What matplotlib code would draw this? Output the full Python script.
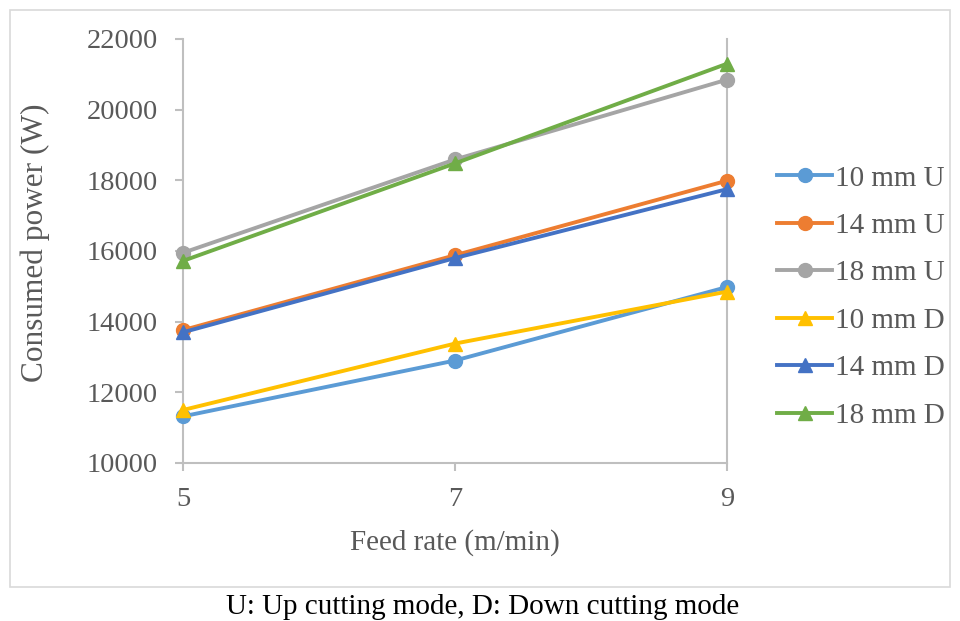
import matplotlib.pyplot as plt
from matplotlib.patches import Rectangle

plt.rcParams['font.family'] = ['Liberation Serif', 'DejaVu Serif']

feed_rates = ['5', '7', '9']
u10 = [11320, 12900, 14980]
u14 = [13760, 15880, 17990]
u18 = [15950, 18590, 20850]
d10 = [11500, 13380, 14850]
d14 = [13700, 15800, 17750]
d18 = [15720, 18480, 21300]

series = [
    ('10 mm U', u10, '#5B9BD5', 'o'),
    ('14 mm U', u14, '#ED7D31', 'o'),
    ('18 mm U', u18, '#A5A5A5', 'o'),
    ('10 mm D', d10, '#FFC000', '^'),
    ('14 mm D', d14, '#4472C4', '^'),
    ('18 mm D', d18, '#70AD47', '^'),
]

text_col = '#595959'
axis_col = '#BFBFBF'


def main():
    fig = plt.figure(figsize=(9.6, 6.21), dpi=100)
    # chart frame
    fig.patches.append(Rectangle((10 / 960, 1 - 587 / 621), 940 / 960, 577 / 621,
                                 transform=fig.transFigure, fill=False,
                                 edgecolor='#D9D9D9', linewidth=1.2))

    ax = fig.add_axes([183 / 960, 1 - 463 / 621, 544 / 960, 424 / 621])
    x = range(len(feed_rates))
    for name, vals, col, mk in series:
        ax.plot(x, vals, color=col, marker=mk, markersize=10, linewidth=2.8,
                label=name, clip_on=False, zorder=3)

    ax.set_xlim(0, len(feed_rates) - 1)
    ax.set_ylim(10000, 22000)
    ax.set_yticks(range(10000, 22001, 2000))
    ax.set_xticks(list(x))
    ax.set_xticklabels(feed_rates)

    ax.spines['top'].set_visible(False)
    for s in ['left', 'bottom', 'right']:
        ax.spines[s].set_color(axis_col)
        ax.spines[s].set_linewidth(1.5)
    ax.tick_params(axis='y', colors=axis_col, labelcolor=text_col,
                   labelsize=20.5, length=6, width=1.5, pad=12)
    ax.tick_params(axis='x', colors=axis_col, labelcolor=text_col,
                   labelsize=20.5, length=6, width=1.5, pad=11)

    ax.set_xlabel('Feed rate (m/min)', fontsize=21, color=text_col)
    ax.xaxis.set_label_coords(0.5, -0.155)
    ax.set_ylabel('Consumed power (W)', fontsize=22.5, color=text_col)
    ax.yaxis.set_label_coords(-0.245, 0.52)

    leg = ax.legend(loc='center left', bbox_to_anchor=(777 / 960, 1 - 297 / 621),
                    bbox_transform=fig.transFigure, frameon=False, fontsize=21,
                    borderpad=0, borderaxespad=0, handlelength=1.9,
                    handletextpad=0.1, labelspacing=0.72)
    for t in leg.get_texts():
        t.set_color(text_col)

    fig.text(0.503, 0.022, 'U: Up cutting mode, D: Down cutting mode',
             ha='center', va='center', fontsize=21, color='black')

    fig.savefig('out.png', dpi=100)


if __name__ == '__main__':
    main()
